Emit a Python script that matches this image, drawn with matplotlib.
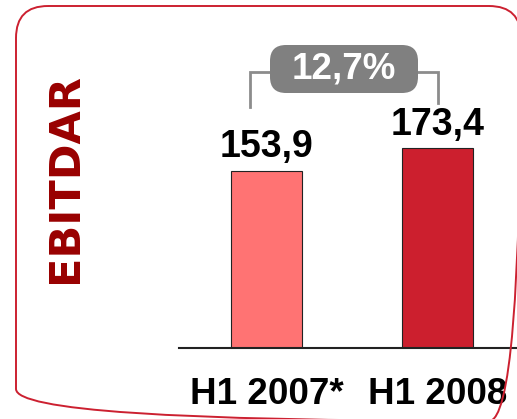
import matplotlib.pyplot as plt
import matplotlib.transforms as mtransforms
from matplotlib.patches import FancyBboxPatch

# data
periods = ['H1 2007*', 'H1 2008']
values = [153.9, 173.4]
value_labels = ['153,9', '173,4']
bar_colors = ['#FF7373', '#CC1F2E']
growth_label = '12,7%'
title = 'EBITDAR'

W, H = 517, 419
fig = plt.figure(figsize=(W / 100, H / 100), dpi=100)

# pixel transform (origin top-left) for decorations
px = mtransforms.Affine2D().scale(1 / W, -1 / H).translate(0, 1) + fig.transFigure

# rounded frame
frame = FancyBboxPatch((16, 6), 505, 415, boxstyle='round,pad=0,rounding_size=32',
                       transform=px, facecolor='none', edgecolor='#CC2030',
                       linewidth=1.4, clip_on=False)
fig.patches.append(frame)

fig.text(65 / W, 1 - 178 / H, title, rotation=90, ha='center', va='center',
         fontsize=31, fontweight='bold', color='#990000', family='DejaVu Sans')

# bar axes: baseline at y=348px, 1 unit = 171px in x
ax = fig.add_axes([179 / W, (H - 348) / H, (W - 179) / W, 348 / H])
x = [0, 1]
ax.bar(x, values, width=0.42, color=bar_colors, edgecolor='#222222', linewidth=0.8)
ax.set_xlim(-0.512, 1.465)
ax.set_ylim(0, 348 / 1.152)

for xi, v, lab in zip(x, values, value_labels):
    ax.annotate(lab, (xi, v), xytext=(0, 4), textcoords='offset points',
                ha='center', va='bottom', fontsize=27, fontweight='bold',
                family='Liberation Sans', color='black')

ax.set_xticks(x)
ax.set_xticklabels(periods, fontsize=26.5, fontweight='bold', family='Liberation Sans')
ax.tick_params(axis='x', length=0, pad=21)
ax.set_yticks([])
for s in ['top', 'right', 'left']:
    ax.spines[s].set_visible(False)
ax.spines['bottom'].set_linewidth(1.5)
ax.spines['bottom'].set_color('#222222')
ax.patch.set_alpha(0)

# growth bracket
y_top = 239.6
ax.plot([x[0] - 0.096, x[0] - 0.096, 0.02], [values[0] + 55.3, y_top, y_top],
        color='#8C8C8C', linewidth=2, clip_on=False, solid_joinstyle='miter')
ax.plot([0.886, x[1] + 0.003, x[1] + 0.003], [y_top, y_top, values[1] + 39.3],
        color='#8C8C8C', linewidth=2, clip_on=False, solid_joinstyle='miter')

box = FancyBboxPatch((270, 45), 148, 48, boxstyle='round,pad=0,rounding_size=16',
                     transform=px, facecolor='#808080', edgecolor='none', clip_on=False)
fig.patches.append(box)
fig.text(344 / W, 1 - 69 / H, growth_label, ha='center', va='center', color='white',
         fontsize=26.5, fontweight='bold', family='Liberation Sans')

fig.savefig('out.png', dpi=100)
